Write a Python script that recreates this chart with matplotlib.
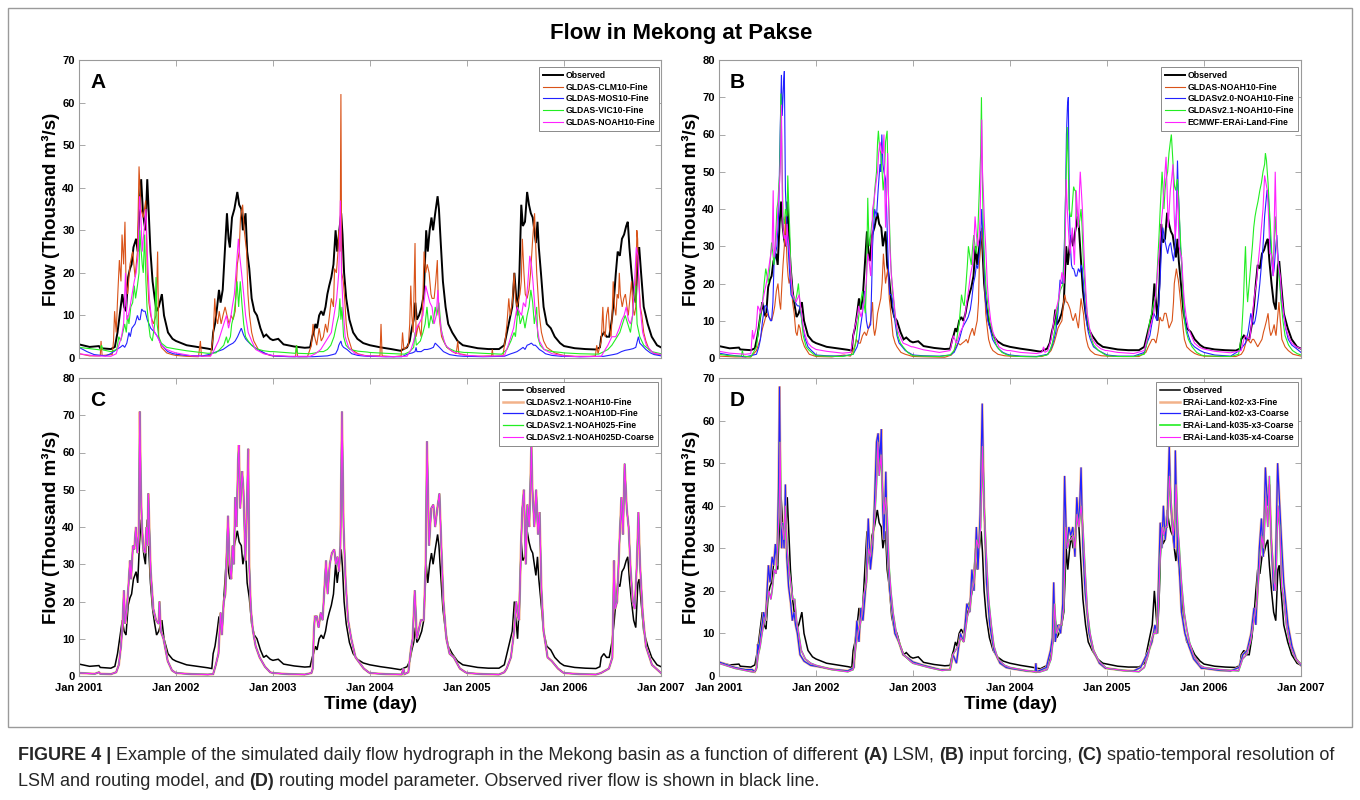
import numpy as np
import matplotlib
matplotlib.use('Agg')
import matplotlib.pyplot as plt
from matplotlib import font_manager
from matplotlib.patches import Rectangle

YEARS = [2001, 2002, 2003, 2004, 2005, 2006]
TICK_YEARS = [2001, 2002, 2003, 2004, 2005, 2006, 2007]

# ---------------- data: (day-of-year, flow in thousand m3/s), one list per year ----------------
OBS = [
 [(0,3.2),(40,2.6),(75,2.8),(80,2.3),(120,2.1),(135,2.6),(145,6),(155,11),(163,15),(170,12),(177,11),(185,19),(192,21),(198,22),(205,26),(210,27),(215,28),(221,25),(228,36),(234,42),(240,35),(245,32),(250,30),(257,42),(262,35),(269,25),(277,18),(285,14),(292,11),(300,12),(312,15),(320,10),(335,6),(352,4.5)],
 [(0,4),(40,3),(80,2.6),(120,2.2),(135,2.0),(140,6),(147,8),(155,12),(162,16),(168,13),(176,16),(185,26),(192,34),(198,28),(203,26),(211,33),(220,35),(231,39),(238,36),(246,35),(252,30),(262,34),(268,25),(276,21),(285,14),(295,11),(305,10),(318,7),(330,5),(340,5.5),(355,4.5)],
 [(0,4.2),(20,4.5),(40,3.2),(80,2.7),(120,2.4),(140,2.5),(148,5),(153,6),(160,8),(166,7),(174,10),(182,11),(190,10),(198,12),(205,15),(212,17),(220,19),(228,22),(236,30),(242,25),(250,30),(257,34),(262,29),(268,20),(276,14),(288,9),(302,6),(318,4.5),(340,3.5)],
 [(0,3),(40,2.5),(80,2.1),(115,1.7),(140,2.5),(150,4),(158,7),(165,9),(171,13),(177,9),(185,10),(195,12),(203,15),(212,30),(218,25),(225,30),(232,33),(238,30),(246,34),(255,38),(260,35),(266,28),(275,18),(285,12),(295,8),(310,6),(330,4),(350,3)],
 [(0,2.8),(40,2.3),(80,2.1),(120,2.1),(140,3),(150,6),(160,9),(170,12),(178,20),(184,15),(190,10),(197,20),(204,36),(210,31),(218,32),(226,39),(233,36),(240,34),(247,33),(253,30),(259,27),(265,32),(270,26),(278,20),(288,12),(300,8),(315,7),(330,5),(350,3.5)],
 [(0,2.8),(40,2.3),(80,2.1),(120,2.0),(135,2.5),(140,5),(150,6),(160,5),(170,5),(180,9),(188,14),(195,20),(202,25),(210,24),(218,28),(226,29),(234,31),(240,32),(246,26),(254,20),(262,15),(270,13),(278,25),(283,26),(290,20),(300,12),(315,8),(330,5),(350,3),(365,2.5)],
]

# Panel A
A_CLM10 = [
 [(0,1),(40,0.5),(80,0.5),(83,4),(87,0.6),(125,0.8),(130,4),(134,11),(140,6),(146,15),(152,23),(158,18),(162,29),(168,22),(173,32),(177,18),(183,15),(192,22),(202,25),(211,19),(220,25),(226,45),(233,35),(242,33),(251,37),(257,20),(263,13),(270,10),(280,8),(290,10),(296,25),(300,5),(310,2.5),(330,1.2),(350,0.8)],
 [(0,0.6),(40,0.4),(85,0.3),(92,4),(96,0.4),(130,0.6),(140,5),(146,14),(150,10),(157,8),(163,11),(170,8),(177,10),(185,12),(192,10),(200,8),(208,10),(215,9),(223,11),(231,22),(238,25),(243,33),(251,36),(257,30),(266,25),(271,15),(277,10),(285,6),(293,4),(310,2),(335,1),(355,0.6)],
 [(0,0.5),(40,0.4),(85,0.3),(89,3),(93,0.3),(130,0.3),(145,3),(151,8),(157,5),(165,3),(174,7),(182,4),(190,5),(198,8),(205,6),(213,10),(220,14),(228,12),(232,21),(239,20),(245,25),(248,30),(253,25),(256,62),(259,20),(265,18),(269,15),(276,8),(282,5),(297,2),(320,1),(345,0.6)],
 [(0,0.5),(38,0.5),(42,8),(46,0.5),(90,0.3),(118,0.5),(123,6),(128,2),(145,3),(150,8),(154,17),(158,10),(163,6),(170,27),(174,5),(183,8),(193,5),(200,15),(204,25),(210,20),(216,22),(223,20),(230,15),(234,14),(242,14),(248,18),(254,23),(258,12),(264,8),(270,5),(277,4),(290,2.5),(300,2),(325,1),(331,4),(335,1),(355,0.8)],
 [(0,0.6),(40,0.4),(92,0.5),(95,2),(98,0.4),(135,0.5),(145,5),(150,8),(157,14),(162,10),(170,13),(177,20),(182,14),(188,12),(195,14),(199,15),(204,18),(208,28),(214,20),(219,15),(226,14),(233,16),(239,20),(247,28),(254,34),(258,27),(262,20),(267,15),(272,10),(280,6),(288,4),(300,2.5),(311,2),(330,1.2),(350,0.8)],
 [(0,0.6),(40,0.4),(100,0.4),(118,0.5),(123,3),(128,1),(140,4),(146,12),(150,6),(155,5),(160,10),(166,12),(171,7),(177,5),(181,10),(185,18),(190,12),(195,10),(200,15),(205,14),(208,20),(212,15),(219,12),(225,14),(231,15),(237,12),(242,10),(248,14),(254,18),(259,12),(265,10),(270,12),(274,30),(277,28),(280,20),(287,12),(293,10),(300,6),(308,4),(320,2),(340,1),(365,0.7)],
]
A_MOS10 = [
 [(0,2.5),(30,1.5),(57,0.8),(100,0.5),(119,1),(142,2),(155,2.5),(165,3),(172,2.5),(180,3.5),(188,6),(193,5),(199,7),(205,7.5),(211,8),(220,10),(225,9),(230,9),(236,11.5),(242,11),(249,11),(257,9),(270,7),(285,6),(296,5),(311,3),(334,1.5),(355,1)],
 [(0,0.9),(40,0.6),(100,0.5),(123,0.8),(154,1.5),(177,2),(200,3),(215,3.5),(223,4),(232,5),(239,6),(246,7),(254,5.5),(262,4.5),(269,4),(285,3),(308,2),(339,1),(360,0.6)],
 [(0,0.5),(60,0.3),(150,0.3),(205,0.5),(225,0.8),(236,1),(244,2),(248,3),(256,4),(260,3),(266,2.5),(279,2),(297,1),(320,0.6),(355,0.4)],
 [(0,0.4),(60,0.3),(120,0.3),(146,1),(160,1.2),(170,1.5),(174,2.5),(177,1.5),(193,1.5),(205,2),(216,2),(228,2.2),(239,2.5),(246,3.5),(254,3),(262,2.5),(277,1.5),(300,0.8),(330,0.5),(355,0.4)],
 [(0,0.4),(60,0.3),(140,0.4),(165,1),(175,1.2),(188,1.5),(200,2),(211,2.5),(218,2),(226,3),(234,3.2),(242,3.5),(250,3),(257,3),(265,2.5),(272,2),(285,1.5),(295,1),(320,0.6),(355,0.4)],
 [(0,0.4),(60,0.3),(150,0.4),(185,0.8),(200,1),(216,1.5),(230,1.8),(247,2),(260,2.2),(270,2.5),(276,4),(280,5),(285,3.5),(293,3),(308,2),(325,1.2),(339,0.8),(365,0.5)],
]
A_VIC10 = [
 [(0,2.5),(40,2.2),(80,1.9),(85,3),(90,1.9),(120,1.5),(142,2),(150,5),(157,4),(165,6),(172,8),(178,6),(183,10),(188,8),(195,12),(202,13),(208,17),(213,14),(220,17),(226,20),(229,30),(233,26),(238,22),(242,20),(247,29),(252,18),(256,12),(262,8),(268,5),(276,4),(285,8),(290,19),(294,8),(300,5),(310,3.5),(330,2.5),(355,2.2)],
 [(0,2.1),(40,1.7),(80,1.4),(120,1.1),(150,1.2),(165,2),(180,3),(190,5),(195,3.5),(205,5),(210,8),(218,10),(225,14),(230,18),(236,12),(242,18),(248,13),(255,8),(262,5),(272,4),(285,3),(300,2.2),(330,1.7),(355,1.5)],
 [(0,1.5),(40,1.3),(85,1.1),(89,3),(93,1.1),(140,1.0),(160,1.2),(175,1.5),(190,1.5),(205,2),(218,3),(230,5),(240,8),(248,10),(252,14),(256,9),(260,12),(266,5),(275,3),(290,2),(320,1.6),(355,1.4)],
 [(0,1.3),(60,1.1),(130,0.9),(150,1.5),(165,2.5),(170,6),(175,3),(190,4),(200,6),(208,8),(215,12),(222,7),(230,10),(238,8),(246,12),(252,10),(260,13),(268,7),(278,4),(290,2.5),(320,1.6),(355,1.3)],
 [(0,1.3),(60,1.1),(130,0.9),(150,2),(165,4),(177,6),(182,5),(192,12),(200,8),(210,10),(218,7),(226,10),(233,12),(240,16),(247,13),(253,8),(262,12),(266,5),(275,3),(290,2),(320,1.5),(355,1.3)],
 [(0,1.2),(60,1),(130,0.9),(150,1.5),(165,2),(180,3),(190,4),(200,5),(210,6),(220,8),(230,10),(240,8),(250,6),(258,10),(265,15),(270,17),(275,8),(285,5),(300,3),(330,1.5),(365,1)],
]
A_NOAH10 = [
 [(0,1),(60,0.5),(120,0.4),(140,1),(150,3),(160,5),(168,8),(175,20),(180,9),(186,10),(192,12),(200,15),(208,18),(215,20),(222,24),(228,38),(233,33),(238,25),(245,30),(252,35),(257,25),(265,14),(275,8),(285,6),(295,5),(310,3),(330,2),(350,1.5)],
 [(0,1.2),(60,0.5),(130,0.4),(145,2),(160,4),(170,6),(180,8),(190,10),(198,7),(205,9),(212,12),(220,15),(228,22),(235,28),(240,24),(247,20),(255,15),(262,10),(272,6),(285,4),(300,2),(330,1),(355,0.7)],
 [(0,0.6),(60,0.4),(140,0.4),(160,1),(180,2),(200,4),(210,5),(220,6),(230,10),(240,14),(248,20),(254,37),(258,20),(264,12),(272,5),(285,2.5),(310,1),(350,0.5)],
 [(0,0.5),(60,0.3),(140,0.4),(155,2),(165,4),(175,7),(185,8),(200,10),(210,17),(218,15),(226,13),(234,12),(242,8),(250,10),(256,16),(262,10),(270,6),(285,3),(310,1.5),(350,0.7)],
 [(0,0.6),(60,0.4),(140,0.5),(155,3),(165,5),(175,7),(188,12),(196,11),(205,10),(212,13),(220,12),(228,17),(236,24),(242,22),(248,18),(255,12),(262,8),(272,4),(290,2),(320,1),(355,0.6)],
 [(0,0.5),(60,0.3),(140,0.4),(155,2),(165,3),(180,5),(195,5),(208,7),(218,9),(226,10),(234,12),(242,9),(250,8),(258,10),(264,16),(272,26),(278,24),(286,12),(296,6),(310,3),(335,1.2),(365,0.8)],
]

# Panel B
B_NOAH10 = [
 [(0,0.5),(60,0.3),(120,0.3),(141,2),(155,5),(164,8),(172,10),(179,12),(188,11),(198,10),(205,12),(210,14),(216,18),(222,20),(228,15),(232,13),(237,20),(241,25),(246,30),(250,38),(256,26),(260,22),(264,20),(271,22),(277,15),(283,12),(289,7),(294,6),(300,9),(305,8),(312,5),(322,3),(340,1),(360,0.5)],
 [(0,0.4),(60,0.3),(106,0.8),(130,0.5),(145,3),(152,5),(160,4),(167,4),(175,6),(183,7),(190,6),(198,8),(206,10),(213,15),(217,8),(221,6),(226,8),(232,12),(238,14),(244,16),(249,20),(254,28),(258,24),(262,20),(266,22),(271,24),(276,16),(282,12),(290,6),(298,4),(305,3),(320,1.5),(336,1),(360,0.5)],
 [(0,0.4),(60,0.3),(120,0.2),(145,0.8),(155,2),(162,3),(170,4),(178,3.5),(186,4),(195,4.5),(201,5),(207,4),(214,6),(224,8),(231,6),(236,8),(242,10),(247,15),(250,25),(255,30),(259,35),(263,30),(267,25),(274,12),(280,8),(285,5),(293,3),(301,2),(320,1),(345,0.6)],
 [(0,0.5),(60,0.4),(120,0.4),(143,1),(155,2),(166,4),(174,6),(181,8),(188,9),(196,10),(202,15),(207,17),(212,15),(216,15),(222,14),(227,13),(233,11),(238,10),(243,11),(247,12),(252,10),(258,8),(263,12),(268,16),(272,14),(277,12),(282,8),(288,5),(295,3),(303,2),(320,1),(345,0.6)],
 [(0,0.5),(60,0.4),(120,0.4),(146,1.5),(155,3),(162,4),(169,5),(177,5),(184,4),(192,7),(199,11),(205,10),(210,10),(216,12),(222,12),(228,10),(233,8),(239,9),(245,10),(250,15),(253,20),(257,22),(261,24),(265,22),(268,21),(274,17),(281,12),(286,8),(291,5),(300,3),(314,2),(330,1.2),(345,0.8)],
 [(0,0.5),(60,0.4),(120,0.4),(140,1),(149,2),(157,4),(164,5),(170,4.5),(176,4),(182,5),(187,5),(195,4),(202,3),(210,4),(218,5),(224,7),(228,8),(235,10),(241,12),(246,8),(251,6),(257,7),(264,9),(268,7),(271,6),(276,10),(282,15),(287,10),(293,5),(305,3),(317,2),(335,1),(365,0.5)],
]
B_V20 = [
 [(0,1.3),(40,0.8),(100,0.3),(141,1),(150,3),(156,5),(164,10),(172,14),(178,14),(183,13),(188,11),(194,10),(198,10),(203,15),(207,25),(213,28),(218,30),(222,35),(225,40),(230,60),(235,76),(238,65),(241,70),(244,75),(246,77),(250,45),(256,35),(260,30),(264,25),(271,17),(278,16),(287,15),(295,14),(302,14),(308,12),(314,9),(325,5),(335,3),(348,2),(360,1.2)],
 [(0,0.8),(40,0.6),(100,0.5),(140,1),(155,3),(162,5),(167,8),(175,12),(180,16),(183,18),(186,14),(190,10),(195,8),(198,8),(206,9),(210,20),(213,30),(217,35),(221,40),(228,38),(234,45),(241,52),(244,50),(248,60),(252,52),(256,50),(262,48),(266,40),(270,30),(275,20),(278,17),(283,17),(287,16),(292,12),(297,10),(305,6),(313,4),(325,3),(336,2),(360,1)],
 [(0,0.8),(40,0.6),(100,0.5),(140,0.8),(155,1.5),(165,3),(175,5),(186,8),(193,9),(201,10),(208,11),(216,13),(222,16),(228,20),(234,22),(239,25),(244,24),(250,28),(255,32),(259,40),(262,35),(265,30),(270,22),(274,15),(282,10),(290,8),(300,5),(308,4),(322,2.5),(339,1.5),(355,1)],
 [(0,0.8),(40,0.5),(100,0.4),(143,1),(158,3),(166,5),(173,7),(181,12),(186,18),(189,21),(195,20),(199,20),(204,28),(207,35),(210,45),(213,60),(217,68),(220,70),(222,55),(224,40),(228,30),(232,25),(236,24),(240,24),(244,23),(247,22),(252,22),(258,24),(264,23),(268,25),(272,24),(277,20),(282,15),(288,10),(295,7),(303,5),(315,3),(334,2),(360,1)],
 [(0,0.8),(40,0.5),(100,0.5),(140,1.5),(150,4),(161,6),(168,9),(176,12),(182,11),(188,10),(194,14),(199,20),(205,30),(210,35),(216,32),(222,30),(228,28),(233,30),(239,31),(245,28),(250,26),(256,30),(261,40),(265,53),(268,45),(271,40),(276,30),(281,25),(286,18),(291,12),(298,8),(306,6),(316,4),(329,3),(350,2)],
 [(0,1.5),(40,0.8),(100,0.5),(133,2),(145,3),(156,4),(166,7),(176,12),(182,10),(187,9),(192,10),(197,12),(204,16),(210,20),(216,25),(222,30),(228,38),(233,42),(237,45),(241,45),(246,38),(251,30),(256,25),(260,22),(264,24),(270,30),(274,33),(278,28),(284,22),(290,16),(299,12),(307,8),(317,5),(330,3.5),(348,2.5),(365,1.5)],
]
B_V21 = [
 [(0,1),(40,0.6),(84,0.5),(88,2),(92,0.5),(120,0.3),(141,3),(150,8),(157,12),(164,15),(170,20),(176,24),(181,22),(186,20),(192,25),(198,31),(203,28),(207,25),(213,32),(218,40),(222,42),(225,46),(229,50),(233,71),(237,55),(241,38),(246,36),(250,40),(256,38),(259,49),(262,42),(266,35),(270,25),(275,18),(281,16),(287,15),(293,17),(299,20),(304,15),(309,12),(317,6),(328,3),(340,2),(360,0.8)],
 [(0,0.6),(40,0.5),(100,0.4),(140,1),(150,4),(159,10),(166,14),(175,18),(180,15),(186,12),(190,20),(195,43),(198,35),(201,30),(206,33),(210,36),(216,38),(221,45),(225,48),(228,50),(232,58),(235,61),(240,56),(244,55),(249,50),(253,45),(257,48),(262,58),(268,61),(272,45),(275,40),(282,25),(288,18),(293,15),(300,10),(308,6),(318,4),(328,3),(345,1.5),(360,0.8)],
 [(0,0.6),(40,0.5),(100,0.4),(140,0.8),(155,2),(165,5),(175,10),(183,17),(188,15),(193,14),(200,20),(205,25),(209,30),(215,27),(220,25),(225,30),(229,33),(234,30),(239,28),(245,35),(250,45),(255,55),(258,70),(261,50),(265,35),(270,25),(276,18),(281,15),(288,10),(296,8),(306,5),(317,3),(335,1.5),(355,0.8)],
 [(0,0.6),(40,0.4),(100,0.3),(140,0.8),(151,2),(160,4),(168,7),(173,10),(181,14),(189,18),(195,19),(201,20),(206,30),(210,45),(213,52),(216,62),(219,55),(223,40),(228,38),(232,38),(236,42),(240,46),(244,45),(247,45),(252,38),(258,35),(263,37),(268,40),(272,35),(277,25),(282,20),(288,14),(295,9),(303,6),(315,3.5),(334,2),(360,0.8)],
 [(0,0.6),(40,0.4),(100,0.4),(140,1),(150,4),(161,10),(168,12),(176,15),(184,17),(190,25),(195,32),(200,40),(207,50),(211,45),(214,40),(218,45),(222,48),(228,50),(233,55),(238,58),(242,60),(246,55),(250,50),(254,46),(258,45),(262,47),(265,48),(268,45),(271,40),(276,32),(281,25),(286,16),(291,10),(298,7),(306,5),(320,3),(337,1.5),(355,0.8)],
 [(0,0.6),(40,0.5),(100,0.4),(130,1),(141,6),(148,15),(153,25),(156,30),(160,20),(164,15),(170,20),(176,25),(182,30),(187,35),(192,38),(197,40),(203,42),(210,45),(216,47),(222,50),(228,52),(231,55),(235,53),(241,47),(246,40),(250,35),(255,28),(259,25),(264,30),(268,38),(273,32),(279,25),(285,20),(290,15),(297,10),(305,6),(318,3.5),(333,2),(350,1.2),(365,0.8)],
]
B_ERAI = [
 [(0,1.8),(40,1.3),(100,1.0),(120,1.2),(126,7.5),(130,5),(133,6),(140,8),(146,14),(152,13),(156,12),(164,15),(172,18),(178,20),(183,22),(189,25),(195,28),(200,30),(204,45),(207,27),(213,30),(218,35),(222,40),(226,45),(229,48),(232,55),(235,68),(238,45),(241,35),(245,32),(249,33),(253,30),(256,36),(260,32),(264,30),(271,22),(277,17),(283,16),(290,15),(296,16),(302,17),(307,14),(311,12),(318,8),(325,6),(335,4),(348,3),(360,2.5)],
 [(0,2.3),(40,1.8),(100,1.3),(130,1.5),(137,4),(145,8),(152,10),(157,12),(161,14),(166,12),(170,11),(176,13),(183,16),(189,20),(195,28),(200,26),(206,22),(210,30),(213,40),(218,42),(223,45),(228,48),(232,50),(236,55),(241,58),(244,57),(248,55),(252,55),(256,60),(259,45),(262,35),(266,45),(270,55),(274,40),(278,30),(284,22),(290,18),(298,12),(305,8),(315,6),(328,4),(345,3.5),(360,3)],
 [(0,3),(40,2.2),(100,1.5),(140,2),(152,6),(158,5),(163,4),(170,5),(178,7),(186,8),(193,10),(201,14),(209,18),(216,22),(224,25),(229,30),(234,38),(239,33),(244,30),(249,32),(253,38),(256,50),(259,64),(262,50),(265,45),(270,35),(274,30),(280,20),(285,15),(293,10),(301,7),(312,5),(324,3),(340,2.3),(355,2)],
 [(0,2),(40,1.5),(100,1.2),(120,1.5),(127,3),(132,1.5),(143,2),(155,5),(166,10),(174,13),(181,15),(188,18),(196,23),(200,22),(204,20),(208,30),(212,48),(216,40),(220,35),(224,30),(227,28),(231,32),(235,35),(239,30),(243,25),(247,35),(250,45),(254,40),(258,35),(262,45),(265,50),(269,45),(273,40),(277,32),(281,25),(286,18),(291,12),(300,8),(311,5),(325,3.5),(342,2.5),(360,2)],
 [(0,2),(40,1.5),(100,1.2),(140,2),(150,5),(161,8),(168,10),(176,12),(184,18),(192,25),(198,30),(204,36),(209,40),(214,45),(218,50),(222,54),(226,45),(230,35),(234,40),(238,45),(243,48),(248,52),(252,40),(256,32),(261,38),(265,45),(268,38),(271,30),(276,28),(281,27),(286,20),(291,15),(298,11),(306,8),(317,6),(329,4),(345,3),(360,2.5)],
 [(0,2.4),(40,1.8),(100,1.4),(140,2),(150,5),(156,6),(164,5.5),(172,5),(180,10),(187,15),(192,18),(197,20),(203,25),(210,30),(216,35),(222,40),(228,49),(233,47),(238,45),(243,38),(248,28),(253,28),(257,25),(261,22),(264,35),(268,50),(271,40),(274,30),(280,25),(287,22),(293,16),(299,12),(308,8),(317,6),(330,4),(348,3),(365,2.5)],
]

# Panel C (the four runs are nearly indistinguishable in the picture)
C_SIM = [
 [(0,0.8),(60,0.6),(75,1.0),(80,0.6),(120,0.5),(140,1),(150,3),(158,8),(164,14),(169,23),(174,14),(180,18),(186,24),(192,31),(196,26),(203,35),(208,34),(214,40),(220,33),(225,38),(229,71),(233,50),(237,40),(243,34),(249,33),(254,40),(258,35),(261,49),(265,40),(270,28),(280,18),(290,15),(300,14),(303,20),(308,12),(318,10),(334,4),(350,1.5)],
 [(0,0.8),(60,0.5),(120,0.4),(140,0.5),(150,3),(160,6),(168,17),(173,11),(180,20),(186,22),(196,43),(202,30),(208,26),(213,35),(218,30),(223,48),(228,40),(234,58),(237,62),(242,45),(249,55),(254,50),(258,40),(261,31),(267,45),(272,61),(276,30),(282,18),(290,12),(300,8),(315,5),(335,2.5),(355,1)],
 [(0,0.8),(60,0.5),(120,0.4),(145,0.8),(150,2),(154,12),(158,16),(165,16),(172,13),(180,17),(187,15),(200,31),(206,22),(214,30),(222,33),(231,34),(237,30),(243,32),(249,28),(254,35),(260,71),(266,40),(274,25),(283,15),(295,10),(311,5),(342,2),(360,1)],
 [(0,0.8),(60,0.5),(120,0.4),(126,2),(130,0.5),(145,1),(154,7),(161,10),(169,23),(177,10),(192,15),(203,15),(210,30),(215,63),(223,35),(231,45),(239,46),(246,40),(254,45),(262,49),(269,35),(277,20),(288,10),(300,6),(316,5),(339,2),(360,1)],
 [(0,0.8),(60,0.5),(120,0.4),(140,1),(149,2),(165,5),(177,12),(185,20),(191,16),(196,15),(203,35),(208,45),(214,50),(221,30),(227,46),(234,40),(242,62),(246,50),(253,40),(260,50),(267,38),(273,44),(280,23),(288,12),(303,5),(319,4),(342,2),(360,1)],
 [(0,0.8),(60,0.5),(120,0.4),(139,0.8),(169,2),(182,5),(188,31),(192,18),(200,20),(208,35),(216,48),(222,38),(228,57),(236,45),(243,40),(251,28),(259,20),(266,18),(274,30),(280,44),(286,30),(296,17),(308,8),(331,3),(365,0.8)],
]

# Panel D
D_K02X3_COARSE = [
 [(0,3.3),(60,2.0),(100,1.5),(125,1.5),(135,1.0),(142,2),(146,7.5),(150,6),(155,9),(162,12),(168,15),(175,13),(180,19),(186,26),(192,22),(200,28),(206,26),(212,31),(218,26),(224,44),(228,68),(232,40),(236,30),(240,36),(245,30),(250,45),(255,28),(262,21),(270,17),(276,13),(282,15),(288,12),(295,10),(305,5),(320,3.5),(345,2.5)],
 [(0,2.3),(60,1.6),(120,1.2),(143,2),(154,13),(162,8),(169,16),(177,13),(189,22),(197,37),(205,25),(213,30),(220,40),(228,55),(234,57),(240,50),(246,58),(251,40),(256,32),(263,48),(269,30),(278,20),(289,14),(297,10),(312,8),(328,5),(351,4)],
 [(0,3.3),(40,2.5),(102,1.5),(140,1.5),(151,5),(164,3),(179,10),(191,8),(203,17),(214,15),(222,25),(230,20),(239,35),(245,25),(253,38),(261,64),(268,40),(277,22),(289,12),(305,6),(328,3),(351,2)],
 [(0,1.8),(60,1.2),(95,1),(98,3),(101,1),(137,2),(153,6),(160,9),(165,22),(171,8),(180,12),(191,10),(199,17),(206,47),(214,30),(222,35),(229,33),(237,35),(245,28),(252,42),(260,35),(268,49),(275,30),(283,20),(298,10),(314,6),(337,3),(360,1.8)],
 [(0,1.8),(60,1.3),(100,1.2),(126,2),(157,6),(169,8),(180,12),(188,10),(200,36),(206,30),(212,40),(219,32),(227,38),(234,54),(240,40),(246,35),(253,30),(257,53),(265,30),(272,25),(280,15),(293,10),(308,7),(326,4),(355,1.8)],
 [(0,1.8),(60,1.3),(100,1.2),(131,2),(146,5),(162,6),(177,10),(188,16),(195,12),(208,30),(216,37),(223,28),(231,49),(239,40),(246,45),(254,30),(262,20),(269,25),(277,50),(285,40),(293,30),(300,22),(316,12),(331,7),(347,4),(365,2.5)],
]
D_K035X4_COARSE = [
 [(0,3),(60,1.8),(100,1.3),(130,0.9),(140,1.5),(148,5),(155,7),(162,10),(168,12),(175,14),(180,17),(188,20),(195,18),(200,20),(208,25),(215,24),(222,32),(227,40),(230,55),(234,36),(238,35),(244,32),(250,40),(256,30),(262,26),(270,22),(278,18),(285,18),(292,13),(300,10),(310,6),(325,4),(345,3)],
 [(0,2.5),(60,1.5),(120,1.0),(140,1.5),(150,7),(158,10),(166,12),(172,14),(180,19),(190,22),(198,30),(205,28),(212,32),(220,36),(228,45),(233,55),(238,47),(245,52),(250,45),(256,38),(262,42),(268,38),(275,26),(282,20),(290,15),(300,11),(312,8),(330,5),(355,3.5)],
 [(0,3),(60,2.0),(110,1.3),(140,1.5),(150,5),(160,6),(170,7),(180,9),(192,8),(205,14),(215,16),(222,20),(230,22),(240,32),(248,30),(255,35),(262,54),(268,40),(275,30),(285,18),(295,12),(305,7),(320,4),(345,2.5)],
 [(0,2),(60,1.3),(110,0.9),(140,1.5),(155,4),(162,8),(168,17),(175,10),(185,12),(195,12),(203,16),(210,35),(217,30),(224,32),(230,32),(238,33),(245,30),(253,38),(260,35),(268,40),(275,35),(283,25),(292,15),(302,10),(315,6),(335,3.5),(360,2)],
 [(0,1.8),(60,1.3),(120,1.0),(140,2),(155,5),(165,8),(175,10),(185,10),(192,14),(200,28),(207,35),(213,33),(220,35),(227,35),(235,47),(242,40),(248,33),(255,37),(260,45),(266,35),(272,30),(280,22),(290,15),(300,11),(310,8),(325,5),(350,2.5)],
 [(0,2),(60,1.5),(130,1.2),(145,4),(160,5),(175,8),(190,14),(200,18),(210,27),(217,33),(224,30),(232,42),(240,35),(246,47),(252,33),(258,28),(264,22),(270,20),(278,40),(285,35),(292,21),(300,18),(310,12),(325,7),(345,4),(365,2.8)],
]

A_LABELS = ['Observed', 'GLDAS-CLM10-Fine', 'GLDAS-MOS10-Fine', 'GLDAS-VIC10-Fine', 'GLDAS-NOAH10-Fine']
B_LABELS = ['Observed', 'GLDAS-NOAH10-Fine', 'GLDASv2.0-NOAH10-Fine', 'GLDASv2.1-NOAH10-Fine', 'ECMWF-ERAi-Land-Fine']
C_LABELS = ['Observed', 'GLDASv2.1-NOAH10-Fine', 'GLDASv2.1-NOAH10D-Fine', 'GLDASv2.1-NOAH025-Fine', 'GLDASv2.1-NOAH025D-Coarse']
D_LABELS = ['Observed', 'ERAi-Land-k02-x3-Fine', 'ERAi-Land-k02-x3-Coarse', 'ERAi-Land-k035-x3-Coarse', 'ERAi-Land-k035-x4-Coarse']

TITLE = 'Flow in Mekong at Pakse'
YLABEL = 'Flow (Thousand m\u00b3/s)'
XLABEL = 'Time (day)'

# ---------------- helpers ----------------
def to_xy(yearly):
    xs, ys = [], []
    for yr, pts in zip(YEARS, yearly):
        base = np.datetime64(f'{yr}-01-01')
        for d, v in pts:
            xs.append(base + np.timedelta64(int(d), 'D'))
            ys.append(v)
    return np.array(xs), np.array(ys)

W, H = 1360, 800
fig = plt.figure(figsize=(W / 100, H / 100), dpi=100)
plt.rcParams['font.family'] = ['Liberation Sans', 'DejaVu Sans']

ORANGE = '#D95319'
PEACH = '#F2B28A'
BLUE = '#2222FF'
GREEN = '#22EE22'
MAGENTA = '#FF22FF'
SPINE = '#9a9a9a'

def px_axes(l, r, t, b):
    return fig.add_axes([l / W, 1 - b / H, (r - l) / W, (b - t) / H])

def style(ax, ymax, letter, show_x):
    ax.set_xlim(np.datetime64('2001-01-01'), np.datetime64('2007-01-01'))
    ax.set_ylim(0, ymax)
    ticks = [np.datetime64(f'{y}-01-01') for y in TICK_YEARS]
    ax.set_xticks(ticks)
    ax.set_xticklabels([f'Jan {y}' for y in TICK_YEARS] if show_x else [])
    ax.set_yticks(np.arange(0, ymax + 1, 10))
    ax.tick_params(direction='in', top=True, right=True, length=4, width=0.6,
                   color=SPINE, labelsize=8)
    ax.tick_params(axis='y', pad=3)
    ax.tick_params(axis='x', pad=5)
    for lab in ax.get_xticklabels() + ax.get_yticklabels():
        lab.set_fontweight('bold')
    for s in ax.spines.values():
        s.set_color(SPINE)
        s.set_linewidth(0.8)
    ax.set_ylabel(YLABEL, fontsize=13.5, fontweight='bold', labelpad=2)
    if show_x:
        ax.set_xlabel(XLABEL, fontsize=13.5, fontweight='bold', labelpad=2)
    ax.text(0.019, 0.925, letter, transform=ax.transAxes, fontsize=15,
            fontweight='bold', ha='left', va='center')

def legend(ax, handles, labels, dx, dy):
    bx = ax.get_position()
    leg = ax.legend(handles, labels, loc='upper right',
                    bbox_to_anchor=(1 - dx / (bx.width * W), 1 - dy / (bx.height * H)),
                    borderaxespad=0, prop={'weight': 'bold', 'size': 6.2},
                    handlelength=2.3, handletextpad=0.3, labelspacing=0.32,
                    borderpad=0.45, fancybox=False, framealpha=1, edgecolor='#8a8a8a')
    leg.get_frame().set_linewidth(0.7)

def draw(ax, series, colors, widths):
    hs = []
    for data, c, w in zip(series, colors, widths):
        x, y = to_xy(data)
        h, = ax.plot(x, y, color=c, lw=w, solid_joinstyle='miter')
        hs.append(h)
    return hs

axA = px_axes(79, 661, 60, 358)
axB = px_axes(719, 1301, 60, 358)
axC = px_axes(79, 661, 378, 676)
axD = px_axes(719, 1301, 378, 676)

hA = draw(axA, [OBS, A_CLM10, A_MOS10, A_VIC10, A_NOAH10],
          ['black', ORANGE, BLUE, GREEN, MAGENTA], [1.4, 0.8, 0.8, 0.8, 0.8])
style(axA, 70, 'A', False)
legend(axA, hA, A_LABELS, 2, 7)

hB = draw(axB, [OBS, B_NOAH10, B_V20, B_V21, B_ERAI],
          ['black', ORANGE, BLUE, GREEN, MAGENTA], [1.4, 0.8, 0.8, 0.8, 0.8])
style(axB, 80, 'B', False)
legend(axB, hB, B_LABELS, 3, 7)

hC = draw(axC, [OBS, C_SIM, C_SIM, C_SIM, C_SIM],
          ['black', PEACH, BLUE, GREEN, MAGENTA], [1.1, 1.8, 0.9, 0.9, 0.8])
style(axC, 80, 'C', True)
legend(axC, hC, C_LABELS, 3, 4)

hD = draw(axD, [OBS, D_K02X3_COARSE, D_K02X3_COARSE, D_K035X4_COARSE, D_K035X4_COARSE],
          ['black', PEACH, BLUE, GREEN, MAGENTA], [1.1, 1.8, 0.9, 1.2, 0.8])
style(axD, 70, 'D', True)
legend(axD, hD, D_LABELS, 3, 4)

fig.text(681 / W, 1 - 33 / H, TITLE, fontsize=16, fontweight='bold', ha='center', va='center')

# outer frame
fig.patches.append(Rectangle((8 / W, 1 - 727 / H), (1352 - 8) / W, (727 - 8) / H,
                             transform=fig.transFigure, fill=False, edgecolor='#9a9a9a', lw=1.0))

# caption with bold fragments
try:
    font_manager.findfont('Liberation Sans Narrow', fallback_to_default=False)
    CAP_FONT = 'Liberation Sans Narrow'
except Exception:
    CAP_FONT = 'Liberation Sans'

LINE1 = [('FIGURE 4 |', True),
         ('Example of the simulated daily flow hydrograph in the Mekong basin as a function of different', False),
         ('(A)', True), ('LSM,', False), ('(B)', True), ('input forcing,', False),
         ('(C)', True), ('spatio-temporal resolution of', False)]
LINE2 = [('LSM and routing model, and', False), ('(D)', True),
         ('routing model parameter. Observed river flow is shown in black line.', False)]

renderer = fig.canvas.get_renderer()

def seg_width(txt, bold, size):
    t = fig.text(0, 0, txt, fontsize=size, fontweight='bold' if bold else 'normal', family=CAP_FONT)
    w = t.get_window_extent(renderer).width
    t.remove()
    return w

def space_width(size):
    return seg_width('a a', False, size) - seg_width('aa', False, size)

base = 10.0
total = sum(seg_width(t, b, base) for t, b in LINE1) + space_width(base) * (len(LINE1) - 1)
cap_size = base * (1340 - 18) / total

def draw_line(segs, y_px, size):
    x = 18
    sp = space_width(size)
    for t, b in segs:
        fig.text(x / W, 1 - y_px / H, t, fontsize=size, fontweight='bold' if b else 'normal',
                 family=CAP_FONT, color='#262626', ha='left', va='center')
        x += seg_width(t, b, size) + sp

draw_line(LINE1, 755, cap_size)
draw_line(LINE2, 781, cap_size)

fig.savefig('out.png', dpi=100)
